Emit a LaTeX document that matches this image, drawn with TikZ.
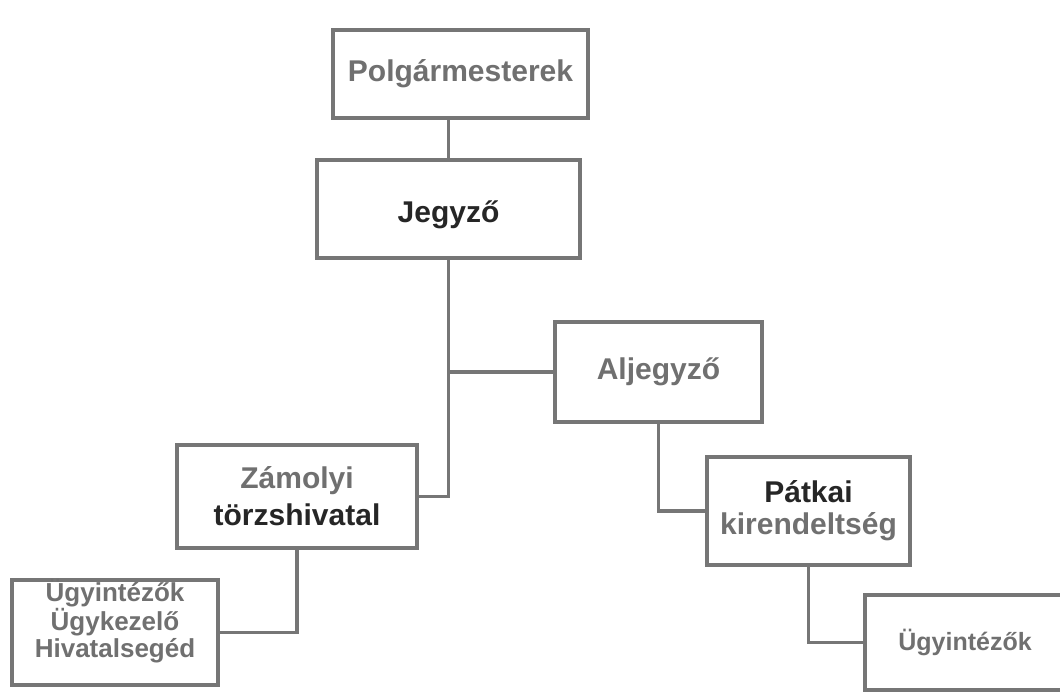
\documentclass[tikz,border=0pt]{standalone}
\usepackage{fontspec}
\setmainfont{Liberation Sans}
\definecolor{bordergray}{HTML}{767676}
\definecolor{lighttext}{HTML}{707070}
\definecolor{darktext}{HTML}{262626}
\begin{document}
\begin{tikzpicture}[x=1pt,y=-1pt,
  box/.style={draw=bordergray, line width=3.2pt, fill=white, inner sep=0pt, align=center,
    font=\fontsize{30}{34}\selectfont\bfseries},
  smalltext/.style={font=\fontsize{26}{27.5}\selectfont\bfseries, text=lighttext, align=center},
  conn/.style={draw=bordergray, line width=3.2pt}
]
\clip (0,0) rectangle (1060,694);
\fill[white] (0,0) rectangle (1060,694);

\node[box, minimum width=255, minimum height=88, text=lighttext] (polg) at (460.5,74) {Polgármesterek};
\node[box, minimum width=263, minimum height=98, text=darktext] (jeg) at (448.5,209) {\raisebox{-6pt}[\height][\depth]{Jegyző}};
\node[box, minimum width=207, minimum height=100, text=lighttext] (alj) at (658.5,372) {Aljegyző};
\node[box, minimum width=240, minimum height=103] (zam) at (297,496.5)
  {\textcolor{lighttext}{Zámolyi}\\[3pt]\textcolor{darktext}{törzshivatal}};
\node[box, minimum width=203, minimum height=108] (pat) at (808.5,511)
  {\textcolor{darktext}{Pátkai}\\[-2pt]\textcolor{lighttext}{kirendeltség}};
\node[box, minimum width=206, minimum height=105,
  label={[smalltext, yshift=11pt]center:{Ügyintézők\\Ügykezelő\\Hivatalsegéd}}] (ugyA) at (115,632.5) {};
\node[box, minimum width=210, minimum height=95, text=lighttext,
  font=\fontsize{25}{28}\selectfont\bfseries] (ugyB) at (970,642.5) {\hspace*{-10pt}Ügyintézők};

\draw[conn] (jeg.north) -- (jeg.north |- polg.south);
\draw[conn] (jeg.south) |- (zam.east);
\draw[conn] (jeg.south |- alj.west) -- (alj.west);
\draw[conn] (alj.south) |- (pat.west);
\draw[conn] (pat.south) |- (ugyB.west);
\draw[conn] (zam.south) |- (ugyA.east);
\end{tikzpicture}
\end{document}
